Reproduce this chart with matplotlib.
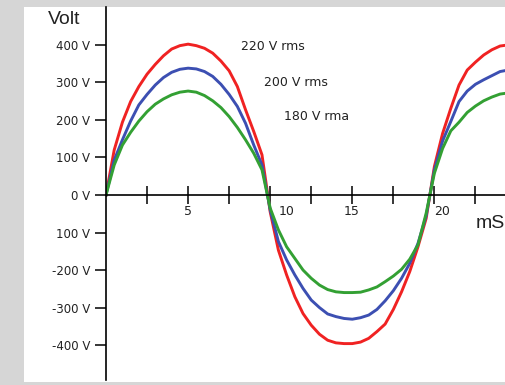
import matplotlib
matplotlib.use('Agg')
import matplotlib.pyplot as plt
from matplotlib.patches import Rectangle

plt.rcParams['font.family'] = 'DejaVu Sans'

# Время, мс (шаг 0.5)
time_ms = [0, 0.5, 1, 1.5, 2, 2.5, 3, 3.5, 4, 4.5,
           5, 5.5, 6, 6.5, 7, 7.5, 8, 8.5, 9, 9.5,
           10, 10.5, 11, 11.5, 12, 12.5, 13, 13.5, 14, 14.5,
           15, 15.5, 16, 16.5, 17, 17.5, 18, 18.5, 19, 19.5,
           20, 20.5, 21, 21.5, 22, 22.5, 23, 23.5, 24, 24.5]

# Напряжение, В
v_220 = [0, 120, 194, 249, 289, 322, 348, 371, 389, 398,
         402, 398, 391, 378, 357, 331, 289, 227, 169, 107,
         -45, -147, -213, -271, -316, -347, -371, -387, -394, -396,
         -396, -392, -382, -364, -344, -305, -258, -204, -138, -62,
         76, 164, 231, 293, 333, 354, 373, 387, 397, 400]
v_200 = [0, 93, 147, 197, 240, 268, 293, 313, 327, 335,
         338, 336, 329, 316, 295, 268, 236, 191, 133, 80,
         -40, -124, -173, -213, -249, -280, -300, -317, -324, -329,
         -331, -327, -320, -305, -282, -255, -222, -182, -129, -55,
         67, 144, 196, 249, 277, 295, 307, 318, 329, 333]
v_180 = [0, 80, 133, 167, 197, 222, 242, 256, 267, 274,
         277, 274, 265, 251, 233, 209, 180, 147, 111, 67,
         -35, -93, -138, -169, -200, -222, -240, -252, -258, -260,
         -260, -259, -253, -245, -231, -216, -198, -171, -133, -48,
         58, 124, 171, 194, 220, 237, 251, 261, 269, 272]

y_ticks = [400, 300, 200, 100, 0, -100, -200, -300, -400]
y_labels = ['400 V', '300 V', '200 V', '100 V', '0 V', '100 V', '-200 V', '-300 V', '-400 V']
x_ticks = [2.5, 5, 7.5, 10, 12.5, 15, 17.5, 20, 22.5]
x_labels = ['5', '10', '15', '20']
series_names = ['220 V rms', '200 V rms', '180 V rma']

W, H = 505, 385
fig = plt.figure(figsize=(W / 100, H / 100), dpi=100, facecolor='#d6d6d6')
fig.patches.append(Rectangle((24 / W, 3 / H), (W - 24) / W, 375 / H,
                             transform=fig.transFigure, facecolor='white',
                             edgecolor='none', zorder=-1))

ax = fig.add_axes([106 / W, 5 / H, (W - 106) / W, 373 / H])
ax.set_zorder(1)
ax.set_facecolor('none')
ax.set_xlim(0, 24.3)
ax.set_ylim(-493, 501)

ax.plot(time_ms, v_220, color='#f02222', lw=2.1)
ax.plot(time_ms, v_200, color='#3c4fb2', lw=2.1)
ax.plot(time_ms, v_180, color='#33a033', lw=2.1)

for s in ['top', 'right']:
    ax.spines[s].set_visible(False)
ax.spines['bottom'].set_position(('data', 0))
ax.spines['left'].set_linewidth(1.2)
ax.spines['bottom'].set_linewidth(1.2)

ax.set_yticks(y_ticks)
ax.set_yticklabels(y_labels, fontsize=8.5, color='#222222')
ax.tick_params(axis='y', direction='out', length=8, width=1.1, pad=3.5)
ax.set_xticks(x_ticks)
ax.set_xticklabels([''] * len(x_ticks))
ax.tick_params(axis='x', direction='inout', length=13, width=1.1)

# подписи оси X (10 и 20 сдвинуты вправо от кривых)
for lab, xp in zip(x_labels, [5, 11.0, 14.94, 20.48]):
    ax.text(xp, -45, lab, ha='center', va='center', fontsize=9, color='#222222')

def px(x, y):
    return x / W, 1 - y / H

fig.text(*px(48, 20), 'Volt', ha='left', va='center', fontsize=14,
         family='Liberation Sans', color='#222222')
fig.text(*px(476, 223), 'mS', ha='left', va='center', fontsize=14,
         family='Liberation Sans', color='#222222')

for name, (cx, cy) in zip(series_names, [(273, 46), (296, 82), (317, 117)]):
    fig.text(*px(cx, cy), name, ha='center', va='center', fontsize=9,
             color='#222222')

fig.savefig('out.png', dpi=100, facecolor=fig.get_facecolor())
